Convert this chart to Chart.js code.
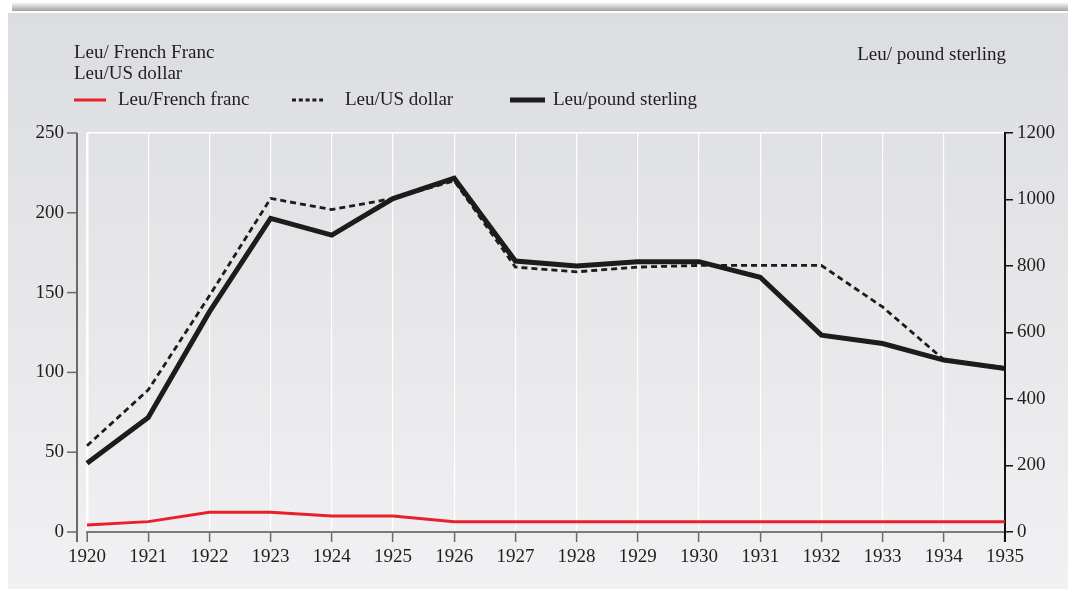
<!DOCTYPE html>
<html lang="en">
<head>
    <meta charset="UTF-8">
    <title>Leu exchange rates 1920-1935</title>
    <script src="https://cdn.jsdelivr.net/npm/chart.js"></script>
    <style>
        html, body {
            margin: 0;
            padding: 0;
            background: #fff;
        }
        .wrap {
            position: relative;
            width: 1068px;
            height: 589px;
        }
    </style>
</head>
<body>
    <div class="wrap">
        <canvas id="leuChart" width="1068" height="589"></canvas>
    </div>

    <script>
        // values
        const years = ['1920', '1921', '1922', '1923', '1924', '1925', '1926', '1927',
                       '1928', '1929', '1930', '1931', '1932', '1933', '1934', '1935'];
        const leuFranc = [4.4, 6.5, 12.3, 12.3, 10, 10, 6.5, 6.5, 6.5, 6.5, 6.5, 6.5, 6.5, 6.5, 6.5, 6.5];
        const leuDollar = [54, 89, 148, 209, 202, 209, 220, 166, 163, 166, 167, 167, 167, 141, 108, 103];
        const leuPound = [207, 344, 662, 943, 893, 1003, 1064, 815, 800, 813, 813, 766, 592, 567, 517, 492];
        const leftMax = 250, leftStep = 50;
        const rightMax = 1200, rightStep = 200;

        const FONT = '"Liberation Serif", "Times New Roman", Times, serif';
        const TEXT = '#1e1e1e';
        const tickFont = { family: FONT, size: 19 };

        Chart.defaults.font.family = FONT;
        Chart.defaults.font.size = 19;
        Chart.defaults.color = TEXT;

        // page backdrop: white strip with shadow, grey gradient panel
        const backdrop = {
            id: 'backdrop',
            beforeDraw(chart) {
                const ctx = chart.ctx, W = chart.width, H = chart.height;
                ctx.save();
                ctx.fillStyle = '#fff';
                ctx.fillRect(0, 0, W, H);
                const sh = ctx.createLinearGradient(0, 2, 0, 11);
                sh.addColorStop(0, 'rgba(255,255,255,1)');
                sh.addColorStop(1, 'rgba(160,160,162,1)');
                ctx.fillStyle = sh;
                ctx.fillRect(12, 2, W - 12, 9);
                const g = ctx.createLinearGradient(0, 13, 0, H);
                g.addColorStop(0, '#dcdde0');
                g.addColorStop(1, '#f1f1f3');
                ctx.fillStyle = g;
                ctx.fillRect(8, 13, W - 8, H - 13);
                ctx.restore();
            }
        };

        // left axis line sits a little away from the plot, as in the original
        const leftAxis = {
            id: 'leftAxis',
            afterDraw(chart) {
                const ctx = chart.ctx, y = chart.scales.y, area = chart.chartArea;
                const ax = area.left - 10;
                ctx.save();
                ctx.strokeStyle = '#6a6a6a';
                ctx.lineWidth = 2;
                ctx.beginPath();
                ctx.moveTo(ax, area.top);
                ctx.lineTo(ax, area.bottom + 10);
                ctx.stroke();
                ctx.lineWidth = 1.5;
                y.ticks.forEach(t => {
                    const py = y.getPixelForValue(t.value);
                    ctx.beginPath();
                    ctx.moveTo(ax - 10, py);
                    ctx.lineTo(ax, py);
                    ctx.stroke();
                });
                // right axis runs a bit below the x axis
                ctx.strokeStyle = '#111';
                ctx.lineWidth = 2;
                ctx.beginPath();
                ctx.moveTo(area.right, area.bottom);
                ctx.lineTo(area.right, area.bottom + 10);
                ctx.stroke();
                ctx.restore();
            }
        };

        // axis titles and legend row
        const headings = {
            id: 'headings',
            afterDraw(chart) {
                const ctx = chart.ctx;
                const ds = chart.data.datasets;
                ctx.save();
                ctx.font = '19px ' + FONT;
                ctx.fillStyle = TEXT;
                ctx.textBaseline = 'middle';
                ctx.textAlign = 'left';
                ctx.fillText('Leu/ French Franc', 74, 53);
                ctx.fillText('Leu/US dollar', 74, 74);
                ctx.textAlign = 'right';
                ctx.fillText('Leu/ pound sterling', 1006, 55);

                const items = [
                    { d: ds[0], x: 74, len: 32, tx: 118, dash: [] },
                    { d: ds[1], x: 292, len: 31, tx: 345, dash: [4, 2.8] },
                    { d: ds[2], x: 510, len: 35, tx: 553, dash: [] }
                ];
                const ly = 100;
                items.forEach(it => {
                    ctx.strokeStyle = it.d.borderColor;
                    ctx.lineWidth = it.d.borderWidth;
                    ctx.setLineDash(it.dash);
                    ctx.beginPath();
                    ctx.moveTo(it.x, ly);
                    ctx.lineTo(it.x + it.len, ly);
                    ctx.stroke();
                    ctx.setLineDash([]);
                    ctx.textAlign = 'left';
                    ctx.fillText(it.d.label, it.tx, ly);
                });
                ctx.restore();
            }
        };

        const ctx = document.getElementById('leuChart').getContext('2d');
        new Chart(ctx, {
            type: 'line',
            data: {
                labels: years,
                datasets: [
                    {
                        label: 'Leu/French franc',
                        data: leuFranc,
                        yAxisID: 'y',
                        borderColor: '#e8202a',
                        borderWidth: 3,
                        order: 3
                    },
                    {
                        label: 'Leu/US dollar',
                        data: leuDollar,
                        yAxisID: 'y',
                        borderColor: '#1c1c1c',
                        borderWidth: 2.8,
                        borderDash: [6, 4],
                        order: 1
                    },
                    {
                        label: 'Leu/pound sterling',
                        data: leuPound,
                        yAxisID: 'y2',
                        borderColor: '#1c1c1c',
                        borderWidth: 5,
                        order: 2
                    }
                ]
            },
            options: {
                responsive: false,
                animation: false,
                devicePixelRatio: 1,
                layout: { padding: { top: 133, left: 0, right: 0, bottom: 0 } },
                elements: {
                    point: { radius: 0 },
                    line: { tension: 0, borderJoinStyle: 'miter', borderCapStyle: 'butt' }
                },
                plugins: {
                    legend: { display: false },
                    tooltip: { enabled: false }
                },
                scales: {
                    x: {
                        type: 'category',
                        offset: false,
                        grid: {
                            color: '#ffffff',
                            lineWidth: c => (c.index === 0 ? 2.5 : 1.2),
                            tickColor: '#6a6a6a',
                            tickLength: 10,
                            tickWidth: 1.5
                        },
                        border: { color: '#7a7a7a', width: 2 },
                        ticks: { autoSkip: false, maxRotation: 0, padding: 4, color: TEXT, font: tickFont },
                        afterFit: s => { s.height = 57; }
                    },
                    y: {
                        position: 'left',
                        min: 0,
                        max: leftMax,
                        ticks: {
                            stepSize: leftStep, padding: 23, color: TEXT, font: tickFont,
                            callback: v => String(v)
                        },
                        grid: {
                            drawTicks: false,
                            color: c => (c.tick && c.tick.value === leftMax ? '#ffffff' : 'rgba(0,0,0,0)'),
                            lineWidth: 1.5
                        },
                        border: { display: false },
                        afterFit: s => { s.width = 87; }
                    },
                    y2: {
                        position: 'right',
                        min: 0,
                        max: rightMax,
                        ticks: {
                            stepSize: rightStep, padding: 4, color: TEXT, font: tickFont,
                            callback: v => String(v)
                        },
                        grid: {
                            drawOnChartArea: false,
                            color: '#111',
                            tickColor: '#111',
                            tickLength: 8,
                            lineWidth: 1.5
                        },
                        border: { color: '#111', width: 2 },
                        afterFit: s => { s.width = 63; }
                    }
                }
            },
            plugins: [backdrop, leftAxis, headings]
        });
    </script>
</body>
</html>
